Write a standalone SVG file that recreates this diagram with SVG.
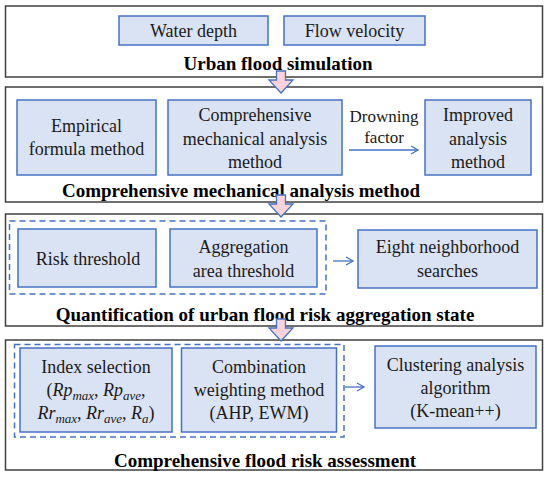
<svg xmlns="http://www.w3.org/2000/svg" width="550" height="480" viewBox="0 0 550 480">
<style>
.frame{fill:#fff;stroke:#404040;stroke-width:1.5}
.box{fill:#dae3f3;stroke:#4472c4;stroke-width:1.5}
.dash{fill:none;stroke:#4472c4;stroke-width:1.5;stroke-dasharray:6,4}
.t{font-family:"Liberation Serif","Times New Roman",serif;font-size:18px;fill:#1a1a1a;text-anchor:middle}
.lbl{font-size:17px}
.title{font-family:"Liberation Serif","Times New Roman",serif;font-size:19px;font-weight:bold;fill:#000;text-anchor:middle}
.i{font-style:italic}
.sub{font-style:italic;font-size:13px}
.conn{stroke:#4472c4;stroke-width:1.3;fill:none}
.big{fill:#f9d3d9;stroke:#4472c4;stroke-width:1.3}
</style>
<defs>
<marker id="ah" markerWidth="10" markerHeight="10" refX="8" refY="5" orient="auto" markerUnits="userSpaceOnUse">
<path d="M1,1 L8,5 L1,9" fill="none" stroke="#4472c4" stroke-width="1.3"/>
</marker>
</defs>

<g id="frame1">
<rect class="frame" x="5.5" y="6" width="537" height="71"/>
<text class="title" x="278" y="70">Urban flood simulation</text>
</g>
<g id="frame2">
<rect class="frame" x="5.5" y="87" width="537" height="115"/>
<text class="title" x="241" y="197">Comprehensive mechanical analysis method</text>
</g>
<g id="frame3">
<rect class="frame" x="5.5" y="214" width="537" height="112"/>
<text class="title" x="265" y="321">Quantification of urban flood risk aggregation state</text>
<rect class="dash" x="9.5" y="221" width="316.5" height="73"/>
</g>
<g id="frame4">
<rect class="frame" x="5.5" y="340" width="537" height="130"/>
<text class="title" x="265" y="467">Comprehensive flood risk assessment</text>
<rect class="dash" x="14.5" y="344.5" width="329.5" height="92.5"/>
</g>

<g id="water-depth">
<rect class="box" x="119" y="16" width="149" height="29"/>
<text class="t" x="193.5" y="37">Water depth</text>
</g>
<g id="flow-velocity">
<rect class="box" x="284" y="16" width="141" height="29"/>
<text class="t" x="354.5" y="37">Flow velocity</text>
</g>

<g id="empirical">
<rect class="box" x="17" y="100" width="139" height="75"/>
<text class="t" x="86.5" y="132">Empirical</text>
<text class="t" x="86.5" y="155">formula method</text>
</g>
<g id="comprehensive">
<rect class="box" x="168" y="100" width="174" height="75"/>
<text class="t" x="255" y="121">Comprehensive</text>
<text class="t" x="255" y="145">mechanical analysis</text>
<text class="t" x="255" y="168">method</text>
</g>
<g id="improved">
<rect class="box" x="425" y="100" width="106" height="75"/>
<text class="t" x="478" y="121">Improved</text>
<text class="t" x="478" y="145">analysis</text>
<text class="t" x="478" y="168">method</text>
</g>

<g id="risk-threshold">
<rect class="box" x="18" y="229" width="138" height="58"/>
<text class="t" x="88" y="265">Risk threshold</text>
</g>
<g id="aggregation">
<rect class="box" x="170" y="229" width="147" height="58"/>
<text class="t" x="243.5" y="253">Aggregation</text>
<text class="t" x="243.5" y="277">area threshold</text>
</g>
<g id="eight">
<rect class="box" x="358" y="230" width="179" height="58"/>
<text class="t" x="447.5" y="253">Eight neighborhood</text>
<text class="t" x="447.5" y="277">searches</text>
</g>

<g id="index">
<rect class="box" x="20" y="348" width="152" height="84"/>
<text class="t" x="96" y="373">Index selection</text>
<text class="t" x="96" y="396">(<tspan class="i">Rp</tspan><tspan class="sub" dy="4">max</tspan><tspan dy="-4">, </tspan><tspan class="i">Rp</tspan><tspan class="sub" dy="4">ave</tspan><tspan dy="-4">,</tspan></text>
<text class="t" x="96" y="419"><tspan class="i">Rr</tspan><tspan class="sub" dy="4">max</tspan><tspan dy="-4">, </tspan><tspan class="i">Rr</tspan><tspan class="sub" dy="4">ave</tspan><tspan dy="-4">, </tspan><tspan class="i">R</tspan><tspan class="sub" dy="4">a</tspan><tspan dy="-4">)</tspan></text>
</g>
<g id="combination">
<rect class="box" x="181.5" y="348" width="155" height="84"/>
<text class="t" x="259" y="373">Combination</text>
<text class="t" x="259" y="396">weighting method</text>
<text class="t" x="259" y="419">(AHP, EWM)</text>
</g>
<g id="clustering">
<rect class="box" x="375" y="346" width="161" height="82"/>
<text class="t" x="455.5" y="371">Clustering analysis</text>
<text class="t" x="455.5" y="394">algorithm</text>
<text class="t" x="455.5" y="417">(K-mean++)</text>
</g>

<g id="connectors">
<polygon class="big" points="276.5,71 285.5,71 285.5,80 293,80 281,93 269,80 276.5,80"/>
<polygon class="big" points="276.5,195 285.5,195 285.5,204 293,204 281,217 269,204 276.5,204"/>
<polygon class="big" points="276.5,319 285.5,319 285.5,328 293,328 281,341 269,328 276.5,328"/>
<line class="conn" x1="349" y1="150" x2="418" y2="150" marker-end="url(#ah)"/>
<text class="t lbl" x="384" y="122">Drowning</text>
<text class="t lbl" x="384" y="143">factor</text>
<line class="conn" x1="333" y1="261" x2="353" y2="261" marker-end="url(#ah)"/>
<line class="conn" x1="345" y1="387" x2="364" y2="387" marker-end="url(#ah)"/>
</g>
</svg>
